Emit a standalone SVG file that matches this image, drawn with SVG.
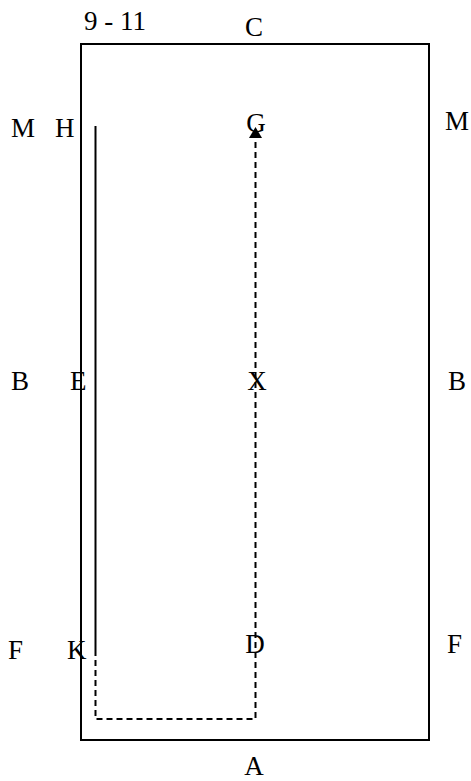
<svg xmlns="http://www.w3.org/2000/svg" width="471" height="781" viewBox="0 0 471 781">
<style>
text { font-family: "Liberation Serif", "Times New Roman", serif; font-size: 27px; fill: #000; }
.solid { fill: none; stroke: #000; stroke-width: 2; }
.dash { fill: none; stroke: #000; stroke-width: 2; stroke-dasharray: 6,4; }
</style>
<defs>
<marker id="arrow" markerWidth="10" markerHeight="10" refX="5" refY="1" orient="auto-start-reverse" markerUnits="userSpaceOnUse" viewBox="0 0 10 10">
<path d="M5,0 L10,10 L0,10 Z" fill="#000"/>
</marker>
</defs>
<g id="arena">
<rect x="81" y="44" width="348" height="696" class="solid"/>
</g>
<g id="labels">
<text x="84" y="30">9 - 11</text>
<text x="254" y="36" text-anchor="middle">C</text>
<text x="11" y="137">M</text>
<text x="55" y="137">H</text>
<text x="256" y="132" text-anchor="middle">G</text>
<text x="445" y="130">M</text>
<text x="11" y="390">B</text>
<text x="70" y="390">E</text>
<text x="257" y="390" text-anchor="middle">X</text>
<text x="448" y="390">B</text>
<text x="8" y="659">F</text>
<text x="67" y="659">K</text>
<text x="255" y="653" text-anchor="middle">D</text>
<text x="447" y="653">F</text>
<text x="254" y="775" text-anchor="middle">A</text>
</g>
<g id="connectors">
<line x1="95.5" y1="126" x2="95.5" y2="650" class="solid"/>
<path d="M95.5,650 L95.5,719 L255.5,719 L255.5,138" class="dash"/>
<path d="M255.5,127 L262,138 L249,138 Z" fill="#000"/>
</g>
</svg>
